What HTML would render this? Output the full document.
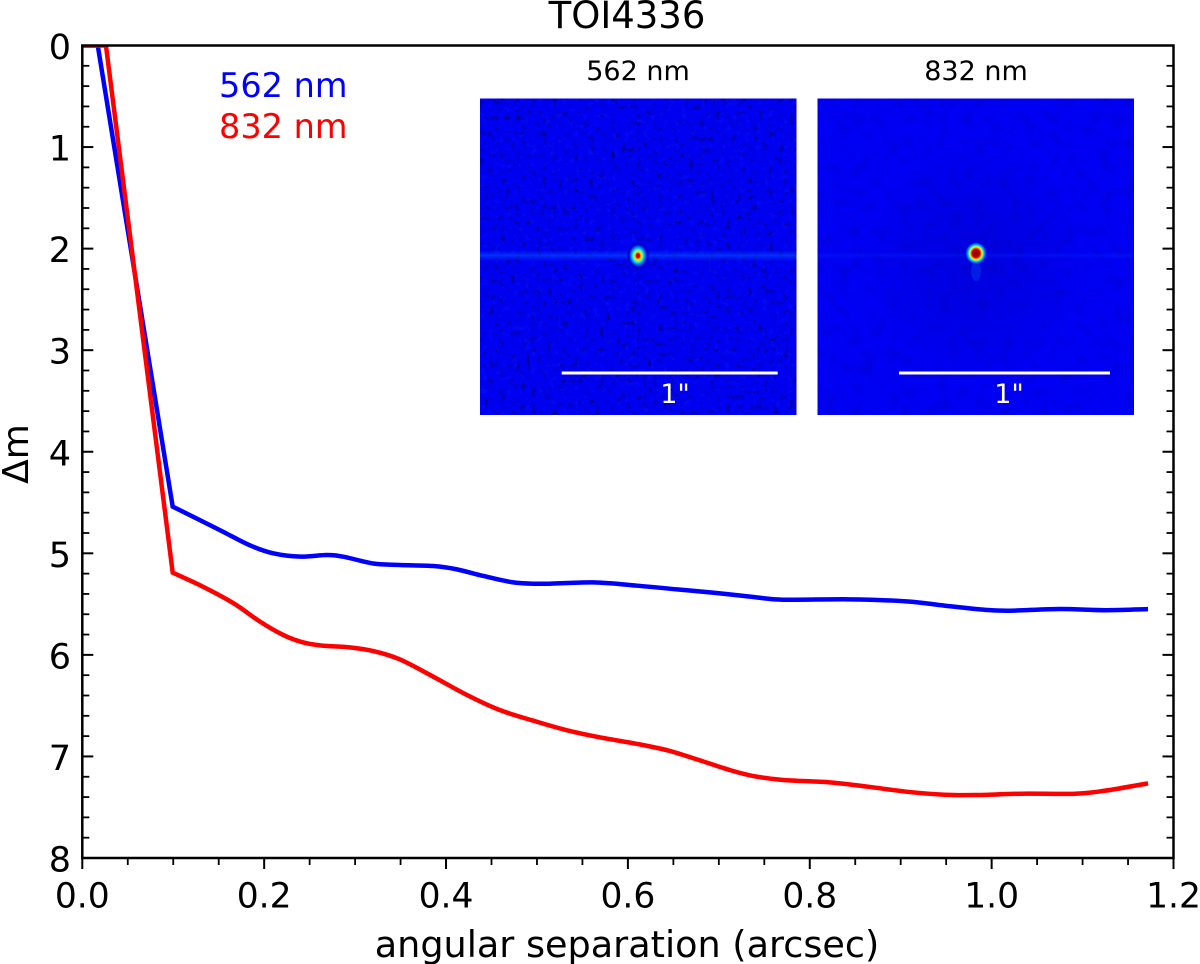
<!DOCTYPE html>
<html lang="en">
<head>
<meta charset="utf-8">
<title>TOI4336 contrast curve</title>
<style>
html,body{margin:0;padding:0;background:#fff;}
svg{display:block;}
text{font-family:"DejaVu Sans","Liberation Sans",sans-serif;fill:#000;}
</style>
</head>
<body>
<svg id="chart" xmlns="http://www.w3.org/2000/svg" width="1200" height="964" viewBox="0 0 1200 964">
  <defs>
    <clipPath id="plot-clip"><rect x="82.3" y="45.5" width="1091.2" height="812.5"/></clipPath>
    <filter id="speckle-dark" x="0" y="0" width="100%" height="100%" color-interpolation-filters="sRGB">
      <feTurbulence type="fractalNoise" baseFrequency="0.19" numOctaves="2" seed="4"/>
      <feColorMatrix type="matrix" values="0 0 0 0 0  0 0 0 0 0  0 0 0 0 0.35  5 0 0 0 -2.95"/>
    </filter>
    <filter id="speckle-light" x="0" y="0" width="100%" height="100%" color-interpolation-filters="sRGB">
      <feTurbulence type="fractalNoise" baseFrequency="0.16" numOctaves="2" seed="11"/>
      <feColorMatrix type="matrix" values="0 0 0 0 0  0 0 0 0 0.2  0 0 0 0 1  0 5 0 0 -2.9"/>
    </filter>
    <filter id="soft-noise" x="0" y="0" width="100%" height="100%" color-interpolation-filters="sRGB">
      <feTurbulence type="fractalNoise" baseFrequency="0.08" numOctaves="3" seed="7"/>
      <feColorMatrix type="matrix" values="0 0 0 0 0  0 0 0 0 0  0 0 0 0 0.5  4 0 0 0 -2.1"/>
    </filter>
    <linearGradient id="band-fade" x1="0" y1="0" x2="0" y2="1">
      <stop offset="0" stop-color="#0038ff" stop-opacity="0"/>
      <stop offset="0.5" stop-color="#0050ff" stop-opacity="0.9"/>
      <stop offset="1" stop-color="#0038ff" stop-opacity="0"/>
    </linearGradient>
    <radialGradient id="peak-a">
      <stop offset="0" stop-color="#a00000"/>
      <stop offset="0.16" stop-color="#e00000"/>
      <stop offset="0.27" stop-color="#ffd000"/>
      <stop offset="0.42" stop-color="#60ff90"/>
      <stop offset="0.58" stop-color="#00a8ff"/>
      <stop offset="0.78" stop-color="#0018e8"/>
      <stop offset="0.9" stop-color="#0000a8"/>
      <stop offset="1" stop-color="#0000c8" stop-opacity="0"/>
    </radialGradient>
    <radialGradient id="peak-b">
      <stop offset="0" stop-color="#900000"/>
      <stop offset="0.33" stop-color="#b00000"/>
      <stop offset="0.45" stop-color="#ff6000"/>
      <stop offset="0.56" stop-color="#f0ff10"/>
      <stop offset="0.68" stop-color="#20e0d0"/>
      <stop offset="0.82" stop-color="#0070ff"/>
      <stop offset="1" stop-color="#0010f0" stop-opacity="0"/>
    </radialGradient>
    <radialGradient id="halo-b">
      <stop offset="0" stop-color="#000090" stop-opacity="0.5"/>
      <stop offset="0.7" stop-color="#000090" stop-opacity="0.2"/>
      <stop offset="1" stop-color="#000090" stop-opacity="0"/>
    </radialGradient>
  </defs>

  <rect x="0" y="0" width="1200" height="964" fill="#ffffff"/>

  <text x="627" y="28" font-size="37" text-anchor="middle">TOI4336</text>
  <text x="627" y="957" font-size="36.6" text-anchor="middle">angular separation (arcsec)</text>
  <text transform="translate(28 454) rotate(-90)" font-size="36" text-anchor="middle">Δm</text>

  <g id="curves" clip-path="url(#plot-clip)"></g>

  <text x="219" y="97" font-size="33.5" style="fill:#0000ff">562 nm</text>
  <text x="219" y="138" font-size="33.5" style="fill:#ff0000">832 nm</text>

  <g>
    <text x="638" y="80" font-size="27" text-anchor="middle">562 nm</text>
    <rect x="480" y="98.5" width="316.5" height="316.5" fill="#0000f0"/>
    <rect x="480" y="98.5" width="316.5" height="316.5" filter="url(#speckle-light)" opacity="0.2"/>
    <rect x="480" y="98.5" width="316.5" height="316.5" filter="url(#speckle-dark)" opacity="0.6"/>
    <rect x="480" y="250" width="316.5" height="11" fill="url(#band-fade)" opacity="0.7"/>
    <line x1="638" y1="130" x2="638" y2="370" stroke="#000088" stroke-width="2" stroke-dasharray="3 6" opacity="0.5"/>
    <ellipse cx="638" cy="255.7" rx="11" ry="13.5" fill="url(#peak-a)"/>
    <line x1="561.7" y1="373" x2="777.7" y2="373" stroke="#ffffff" stroke-width="3"/>
    <text x="675" y="403" font-size="27" text-anchor="middle" style="fill:#ffffff">1"</text>
  </g>

  <g>
    <text x="976" y="80" font-size="27" text-anchor="middle">832 nm</text>
    <rect x="817.5" y="98.5" width="316.5" height="316.5" fill="#0000f2"/>
    <rect x="817.5" y="98.5" width="316.5" height="316.5" filter="url(#soft-noise)" opacity="0.15"/>
    <ellipse cx="976" cy="262" rx="105" ry="115" fill="url(#halo-b)" opacity="0.4"/>
    <rect x="817.5" y="252" width="316.5" height="7" fill="url(#band-fade)" opacity="0.2"/>
    <ellipse cx="976" cy="271" rx="5" ry="10" fill="#0060ff" opacity="0.3"/>
    <ellipse cx="976" cy="253.3" rx="11" ry="11.5" fill="url(#peak-b)"/>
    <line x1="899" y1="373" x2="1110" y2="373" stroke="#ffffff" stroke-width="3"/>
    <text x="1009" y="403" font-size="27" text-anchor="middle" style="fill:#ffffff">1"</text>
  </g>

  <g id="axes"></g>
</svg>

<script>
const blueSep = [0, 0.017, 0.0994, 0.151, 0.184, 0.21, 0.24, 0.2688, 0.287, 0.32, 0.349, 0.386, 0.412, 0.441, 0.474, 0.507, 0.562, 0.612, 0.654, 0.696, 0.738, 0.771, 0.843, 0.906, 0.948, 0.991, 1.02, 1.075, 1.125, 1.172];
const blueDm = [0, 0, 4.54, 4.77, 4.92, 5.0, 5.033, 5.017, 5.033, 5.1, 5.115, 5.125, 5.158, 5.223, 5.286, 5.3, 5.286, 5.32, 5.355, 5.39, 5.43, 5.457, 5.453, 5.473, 5.515, 5.555, 5.565, 5.548, 5.56, 5.55];
const redSep = [0, 0.026, 0.0994, 0.133, 0.166, 0.195, 0.22, 0.24, 0.261, 0.294, 0.32, 0.349, 0.386, 0.423, 0.459, 0.496, 0.532, 0.569, 0.611, 0.645, 0.678, 0.712, 0.738, 0.771, 0.822, 0.864, 0.906, 0.948, 0.982, 1.033, 1.092, 1.125, 1.172];
const redDm = [0, 0, 5.19, 5.33, 5.49, 5.67, 5.8, 5.87, 5.906, 5.926, 5.962, 6.044, 6.215, 6.395, 6.543, 6.648, 6.74, 6.812, 6.878, 6.943, 7.035, 7.134, 7.193, 7.232, 7.255, 7.298, 7.347, 7.377, 7.38, 7.367, 7.367, 7.337, 7.265];
const xTickLabels = ['0.0', '0.2', '0.4', '0.6', '0.8', '1.0', '1.2'];
const yTickLabels = ['0', '1', '2', '3', '4', '5', '6', '7', '8'];

const NS = 'http://www.w3.org/2000/svg';
const plotLeft = 82.3, plotRight = 1173.5, plotTop = 45.5, plotBottom = 858;
const xMax = 1.2, yMax = 8;
function xScale(v) { return plotLeft + (v / xMax) * (plotRight - plotLeft); }
function yScale(v) { return plotTop + (v / yMax) * (plotBottom - plotTop); }

function curvePath(xs, ys) {
  const pts = xs.map(function (x, i) { return [xScale(x), yScale(ys[i])]; });
  let d = 'M' + pts[0][0] + ' ' + pts[0][1] + ' L' + pts[1][0] + ' ' + pts[1][1] + ' L' + pts[2][0] + ' ' + pts[2][1];
  for (let i = 2; i < pts.length - 1; i++) {
    const p0 = pts[Math.max(i - 1, 2)], p1 = pts[i], p2 = pts[i + 1], p3 = pts[Math.min(i + 2, pts.length - 1)];
    const c1x = p1[0] + (p2[0] - p0[0]) / 6, c1y = p1[1] + (p2[1] - p0[1]) / 6;
    const c2x = p2[0] - (p3[0] - p1[0]) / 6, c2y = p2[1] - (p3[1] - p1[1]) / 6;
    d += ' C' + c1x + ' ' + c1y + ' ' + c2x + ' ' + c2y + ' ' + p2[0] + ' ' + p2[1];
  }
  return d;
}

const curves = document.getElementById('curves');
const bluePath = document.createElementNS(NS, 'path');


bluePath.setAttribute('d', curvePath(blueSep, blueDm));
bluePath.setAttribute('fill', 'none');
bluePath.setAttribute('stroke', '#0000ff');
bluePath.setAttribute('stroke-width', '4.5');
curves.appendChild(bluePath);

const redPath = document.createElementNS(NS, 'path');


redPath.setAttribute('d', curvePath(redSep, redDm));
redPath.setAttribute('fill', 'none');
redPath.setAttribute('stroke', '#ff0000');
redPath.setAttribute('stroke-width', '4.5');
curves.appendChild(redPath);

const axes = document.getElementById('axes');
function tickLine(x1, y1, x2, y2, w) {
  const l = document.createElementNS(NS, 'line');
  l.setAttribute('x1', x1);
  l.setAttribute('y1', y1);
  l.setAttribute('x2', x2);
  l.setAttribute('y2', y2);
  l.setAttribute('stroke', '#000000');
  l.setAttribute('stroke-width', w);
  axes.appendChild(l);
  return l;
}

// minor x ticks: four intervals per major step
for (let i = 0; i < xTickLabels.length - 1; i++) {
  const a = Number(xTickLabels[i]), b = Number(xTickLabels[i + 1]);
  for (let k = 1; k < 4; k++) {
    const m = tickLine(xScale(a + (b - a) * k / 4), plotBottom, xScale(a + (b - a) * k / 4), plotBottom + 7, 1.8);
    
    
  }
}
// minor y ticks: five intervals per major step, both sides
for (let i = 0; i < yTickLabels.length - 1; i++) {
  const a = Number(yTickLabels[i]), b = Number(yTickLabels[i + 1]);
  for (let k = 1; k < 5; k++) {
    const py = yScale(a + (b - a) * k / 5);
    const ml = tickLine(plotLeft, py, plotLeft + 7, py, 1.8);
    
    
    const mr = tickLine(plotRight, py, plotRight - 7, py, 1.8);
    
    
  }
}
xTickLabels.forEach(function (label) {
  const px = xScale(Number(label));
  const t = tickLine(px, plotBottom, px, plotBottom + 11, 2);
  
  
  const txt = document.createElementNS(NS, 'text');
  
  
  txt.setAttribute('x', px);
  txt.setAttribute('y', 907.5);
  txt.setAttribute('font-size', '34.5');
  txt.setAttribute('text-anchor', 'middle');
  txt.textContent = label;
  axes.appendChild(txt);
});
yTickLabels.forEach(function (label) {
  const py = yScale(Number(label));
  const tl = tickLine(plotLeft, py, plotLeft + 11, py, 2);
  
  
  const tr = tickLine(plotRight, py, plotRight - 11, py, 2);
  
  
  const txt = document.createElementNS(NS, 'text');
  
  
  txt.setAttribute('x', 71);
  txt.setAttribute('y', py + 13.5);
  txt.setAttribute('font-size', '35');
  txt.setAttribute('text-anchor', 'end');
  txt.textContent = label;
  axes.appendChild(txt);
});

const frame = document.createElementNS(NS, 'rect');


frame.setAttribute('x', plotLeft);
frame.setAttribute('y', plotTop);
frame.setAttribute('width', plotRight - plotLeft);
frame.setAttribute('height', plotBottom - plotTop);
frame.setAttribute('fill', 'none');
frame.setAttribute('stroke', '#000000');
frame.setAttribute('stroke-width', '2.5');
axes.appendChild(frame);
</script>
</body>
</html>
